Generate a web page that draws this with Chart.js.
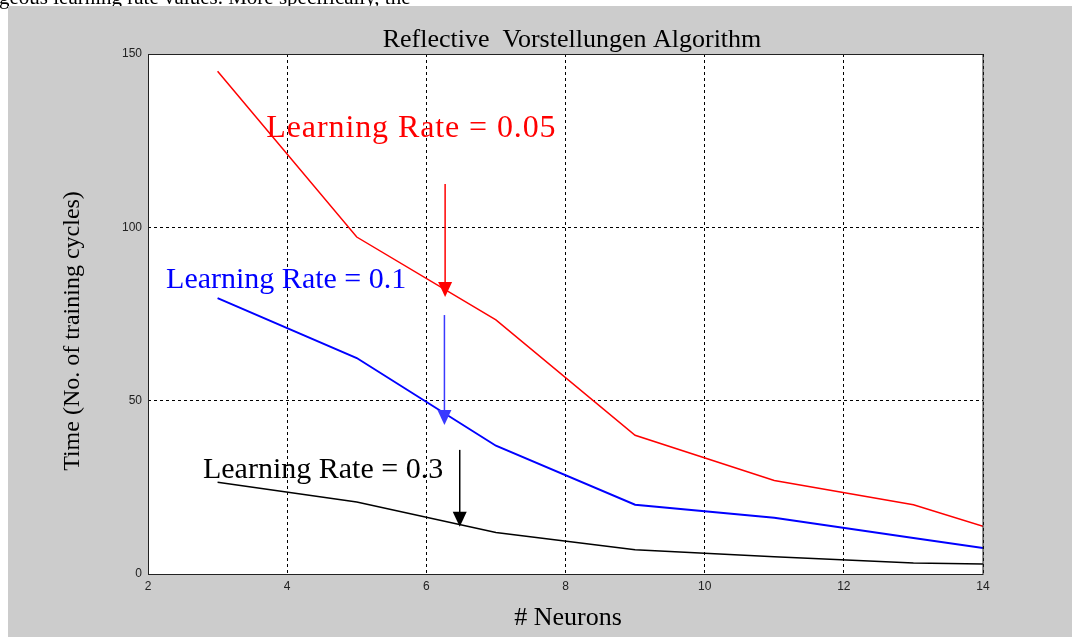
<!DOCTYPE html>
<html>
<head>
<meta charset="utf-8">
<title>Reflective Vorstellungen Algorithm</title>
<script src="https://cdn.jsdelivr.net/npm/chart.js@4.4.0/dist/chart.umd.min.js"></script>
<style>
    html, body { margin: 0; padding: 0; background: #fff; }
    #wrap { position: relative; width: 1072px; height: 637px; }
</style>
</head>
<body>
<div id="wrap"><canvas id="chart" width="1072" height="637"></canvas></div>
<script>
// Data
const neurons = [3, 5, 7, 9, 11, 13, 14];
const rate005 = [145, 97.2, 73.3, 40, 27, 20, 13.8];
const rate01 = [79.6, 62.3, 37, 20, 16.2, 10.4, 7.5];
const rate03 = [26.5, 20.8, 12, 7, 5, 3.2, 2.9];

const xTicks = [2, 4, 6, 8, 10, 12, 14];
const yTicks = [0, 50, 100, 150];

// Texts
const chartTitle = 'Reflective  Vorstellungen Algorithm';
const xTitle = '# Neurons';
const yTitle = 'Time (No. of training cycles)';
const captionText = 'geous learning rate values. More specifically, the';

// Labels and arrows, placed in data units
const notes = [
    { text: 'Learning Rate = 0.05', color: '#ff0000', arrowColor: '#ff0000', size: 32, spacing: '0.9px', tx: 3.70, ty: 126, ax: 6.27, from: 112.5, to: 79.9 },
    { text: 'Learning Rate = 0.1', color: '#0000ff', arrowColor: '#3a3aff', size: 30, spacing: '0px', tx: 2.26, ty: 82.5, ax: 6.26, from: 74.7, to: 43 },
    { text: 'Learning Rate = 0.3', color: '#000000', arrowColor: '#000000', size: 30, spacing: '0px', tx: 2.79, ty: 27.7, ax: 6.48, from: 35.8, to: 13.6 }
];

const serif = '"Liberation Serif", "Times New Roman", serif';
const sans = '"Liberation Sans", Arial, sans-serif';

function toPoints(values) {
    return neurons.map((n, i) => ({ x: n, y: values[i] }));
}

// Grey figure background, white axes area, caption fragment on top
const backdrop = {
    id: 'backdrop',
    beforeDraw(chart) {
        const { ctx, chartArea: a } = chart;
        ctx.save();
        ctx.fillStyle = '#fff';
        ctx.fillRect(0, 0, chart.width, chart.height);
        ctx.fillStyle = '#000';
        ctx.font = '21px ' + serif;
        ctx.textBaseline = 'alphabetic';
        ctx.fillText(captionText, -1, 4);
        ctx.fillStyle = '#cccccc';
        ctx.fillRect(8, 6, chart.width - 8, chart.height - 6);
        ctx.fillStyle = '#fff';
        ctx.fillRect(a.left, a.top, a.right - a.left, a.bottom - a.top);
        ctx.restore();
    }
};

// Axes box, titles, labels and arrows
const decorations = {
    id: 'decorations',
    afterDatasetsDraw(chart) {
        const { ctx, chartArea: a, scales } = chart;
        ctx.save();

        // box
        ctx.strokeStyle = '#222';
        ctx.lineWidth = 1;
        ctx.strokeRect(Math.round(a.left) + 0.5, Math.round(a.top) + 0.5,
            Math.round(a.right - a.left) - 0.5, Math.round(a.bottom - a.top));

        // notes
        notes.forEach(note => {
            ctx.fillStyle = note.color;
            ctx.font = note.size + 'px ' + serif;
            ctx.letterSpacing = note.spacing;
            ctx.textAlign = 'left';
            ctx.textBaseline = 'alphabetic';
            ctx.fillText(note.text, scales.x.getPixelForValue(note.tx), scales.y.getPixelForValue(note.ty));
            ctx.letterSpacing = '0px';

            const x = scales.x.getPixelForValue(note.ax);
            const y1 = scales.y.getPixelForValue(note.from);
            const y2 = scales.y.getPixelForValue(note.to);
            ctx.strokeStyle = note.arrowColor;
            ctx.fillStyle = note.arrowColor;
            ctx.lineWidth = 1.5;
            ctx.beginPath();
            ctx.moveTo(x, y1);
            ctx.lineTo(x, y2 - 14);
            ctx.stroke();
            ctx.beginPath();
            ctx.moveTo(x - 7, y2 - 15);
            ctx.lineTo(x + 7, y2 - 15);
            ctx.lineTo(x, y2);
            ctx.closePath();
            ctx.fill();
        });

        // titles
        ctx.fillStyle = '#000';
        ctx.font = '26px ' + serif;
        ctx.textAlign = 'center';
        ctx.textBaseline = 'alphabetic';
        ctx.fillText(chartTitle, 572, 47);
        ctx.fillText(xTitle, 568, 625);

        ctx.translate(73, 331);
        ctx.rotate(-Math.PI / 2);
        ctx.font = '24px ' + serif;
        ctx.textBaseline = 'middle';
        ctx.fillText(yTitle, 0, 0);

        ctx.restore();
    }
};

const tickFont = { family: sans, size: 12 };

new Chart(document.getElementById('chart').getContext('2d'), {
    type: 'line',
    data: {
        datasets: [
            { label: 'Learning Rate = 0.05', data: toPoints(rate005), borderColor: '#ff0000', borderWidth: 1.5 },
            { label: 'Learning Rate = 0.1', data: toPoints(rate01), borderColor: '#0000ff', borderWidth: 2 },
            { label: 'Learning Rate = 0.3', data: toPoints(rate03), borderColor: '#000000', borderWidth: 1.5 }
        ]
    },
    options: {
        responsive: false,
        animation: false,
        layout: { padding: { top: 54, right: 89, left: 0, bottom: 0 } },
        elements: { point: { radius: 0 }, line: { tension: 0, fill: false } },
        plugins: {
            legend: { display: false },
            tooltip: { enabled: false }
        },
        scales: {
            x: {
                type: 'linear',
                min: xTicks[0],
                max: xTicks[xTicks.length - 1],
                afterBuildTicks: s => { s.ticks = xTicks.map(v => ({ value: v })); },
                ticks: { padding: 5, color: '#222', font: tickFont },
                grid: { color: '#000', lineWidth: 1, drawTicks: false },
                border: { display: false, dash: [3, 3] },
                afterFit: s => { s.height = 63; }
            },
            y: {
                min: yTicks[0],
                max: yTicks[yTicks.length - 1],
                afterBuildTicks: s => { s.ticks = yTicks.map(v => ({ value: v })); },
                ticks: { padding: 6, color: '#222', font: tickFont },
                grid: { color: '#000', lineWidth: 1, drawTicks: false },
                border: { display: false, dash: [3, 3] },
                afterFit: s => { s.width = 148; }
            }
        }
    },
    plugins: [backdrop, decorations]
});
</script>
</body>
</html>
